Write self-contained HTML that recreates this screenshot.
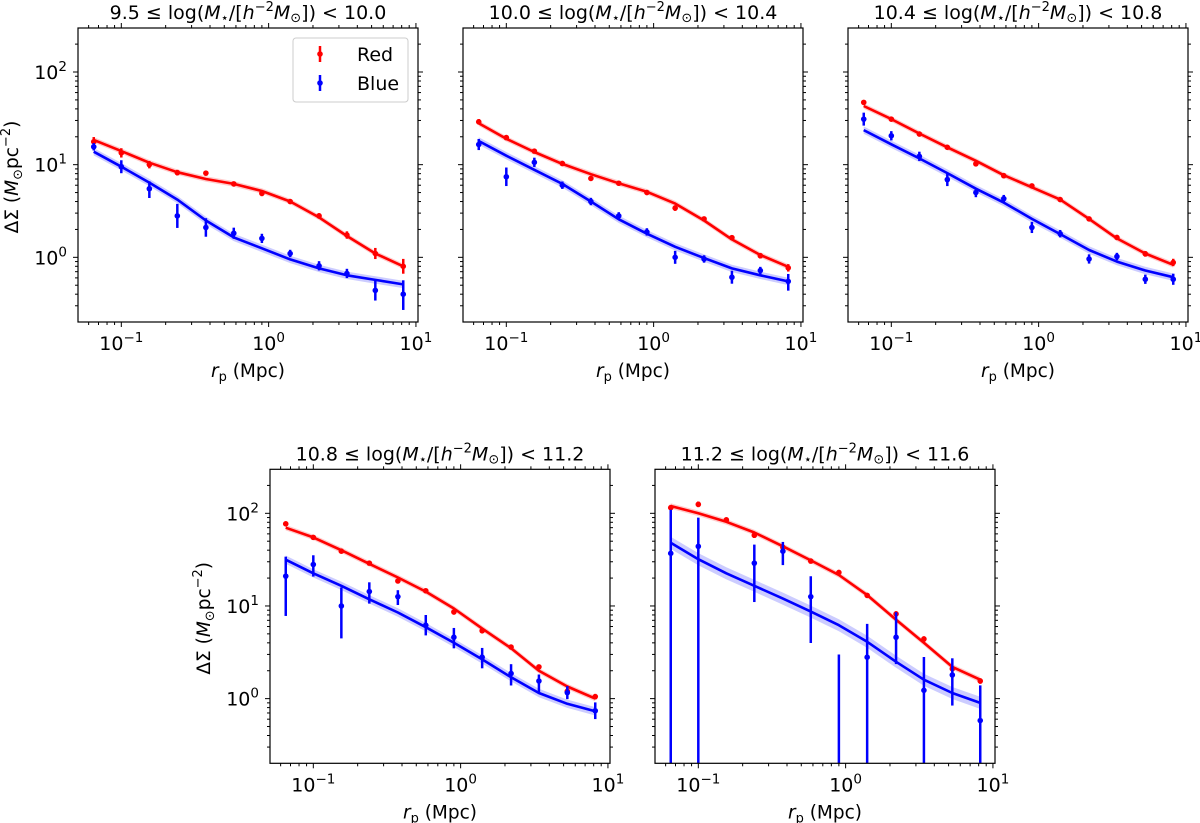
<!DOCTYPE html>
<html><head><meta charset="utf-8">
<style>
html,body{margin:0;padding:0;background:#fff;overflow:hidden;width:1200px;height:823px;}
svg{display:block;font-family:"DejaVu Sans","Liberation Sans",sans-serif;}
</style></head>
<body>
<svg id="fig" width="1200" height="823" viewBox="0 0 1200 823" xmlns="http://www.w3.org/2000/svg"></svg>
<script>
// ---- data ----
const rp = [0.065,0.1,0.155,0.24,0.375,0.58,0.9,1.4,2.2,3.4,5.3,8.2];
const panelTitles = [["9.5","10.0"],["10.0","10.4"],["10.4","10.8"],["10.8","11.2"],["11.2","11.6"]];
const xTickValues = [0.1,1,10];
const xTickExps = ["−1","0","1"];
const yTickValues = [1,10,100];
const yTickExps = ["0","1","2"];

const p1RedData  = [17.7,13.4,10,8.2,8.1,6.2,4.9,4.0,2.8,1.74,1.1,0.8];
const p1RedErr   = [0.05,0.05,0.04,0.03,0.02,0.02,0.03,0.02,0.03,0.04,0.06,0.08];
const p1RedModel = [18.5,14,10.5,8.3,7,6.2,5.2,4,2.7,1.7,1.1,0.8];
const p1BlueData = [15.6,9.5,5.5,2.8,2.1,1.82,1.6,1.1,0.81,0.67,0.44,0.40];
const p1BlueUp   = [0.04,0.07,0.08,0.13,0.1,0.06,0.05,0.04,0.05,0.05,0.11,0.15];
const p1BlueDn   = [0.04,0.07,0.1,0.13,0.1,0.06,0.05,0.04,0.05,0.05,0.11,0.17];
const p1BlueModel= [13.8,9.5,6.4,4.2,2.5,1.64,1.25,0.95,0.76,0.64,0.57,0.51];

const p2RedData  = [29,19.6,14,10.3,7.1,6.3,5.0,3.4,2.6,1.63,1.04,0.77];
const p2RedErr   = [0.03,0.02,0.02,0.02,0.02,0.02,0.02,0.03,0.02,0.02,0.03,0.04];
const p2RedModel = [28,19,13.7,10.2,7.9,6.3,5.1,3.8,2.5,1.56,1.06,0.79];
const p2BlueData = [16.5,7.4,10.6,6.0,4.0,2.8,1.88,1.0,0.96,0.61,0.72,0.55];
const p2BlueUp   = [0.06,0.1,0.05,0.04,0.04,0.04,0.04,0.07,0.04,0.07,0.04,0.08];
const p2BlueDn   = [0.06,0.1,0.05,0.04,0.04,0.04,0.04,0.07,0.04,0.07,0.04,0.1];
const p2BlueModel= [18,12.5,8.8,6.2,4.0,2.57,1.8,1.3,0.98,0.76,0.64,0.55];

const p3RedData  = [47,31,21.4,15.4,10.2,7.6,5.9,4.2,2.6,1.64,1.09,0.88];
const p3RedErr   = [0.02,0.02,0.02,0.02,0.02,0.02,0.02,0.02,0.02,0.02,0.03,0.04];
const p3RedModel = [43,31,21.7,15.4,11,7.7,5.7,4.2,2.6,1.6,1.1,0.83];
const p3BlueData = [31,20.5,12.3,6.9,5.0,4.3,2.1,1.8,0.96,1.02,0.58,0.58];
const p3BlueUp   = [0.07,0.05,0.05,0.07,0.05,0.04,0.06,0.04,0.05,0.04,0.05,0.06];
const p3BlueDn   = [0.07,0.05,0.05,0.07,0.05,0.04,0.06,0.04,0.05,0.04,0.05,0.06];
const p3BlueModel= [23.6,16.6,11.7,8.1,5.5,3.9,2.6,1.78,1.2,0.9,0.72,0.61];

const p4RedData  = [77,55,39,29,18.6,14.6,8.6,5.4,3.6,2.2,1.2,1.05];
const p4RedErr   = [0.02,0.02,0.02,0.02,0.02,0.02,0.02,0.02,0.02,0.02,0.03,0.03];
const p4RedModel = [70,55,40,28.5,20.3,14.3,9.4,5.7,3.5,2.0,1.35,1.0];
const p4BlueData = [21,28,10,14.3,12.6,6.2,4.6,2.8,1.87,1.55,1.16,0.74];
const p4BlueUp   = [0.21,0.10,0.20,0.10,0.07,0.11,0.10,0.10,0.10,0.07,0.07,0.09];
const p4BlueDn   = [0.43,0.13,0.35,0.13,0.09,0.11,0.12,0.12,0.13,0.13,0.07,0.09];
const p4BlueModel= [31.6,22.5,16.5,11.8,8.5,5.9,4.0,2.65,1.7,1.15,0.88,0.73];

const p5RedData  = [115,125,85,58,43,30.5,23,13,8.2,4.4,2.1,1.55];
const p5RedErr   = [0.03,0.03,0.02,0.03,0.02,0.02,0.02,0.02,0.03,0.03,0.03,0.03];
const p5RedModel = [120,100,81,62,44,31,21.6,13.1,7.1,4.0,2.2,1.6];
const p5BlueData = [37,44,null,29,39,12.6,0.15,2.8,4.6,1.23,1.8,0.58];
const p5BlueUp   = [0.47,0.31,0,0.2,0.1,0.22,1.3,0.36,0.27,0.36,0.18,0.38];
const p5BlueDn   = [3,3,0,0.42,0.15,0.5,3,3,0.29,3,0.33,3];
const p5BlueModel= [48,32,22.5,16.5,12,8.7,6.2,4.1,2.5,1.6,1.15,0.9];

const panels = [
 {redD:p1RedData,redE:p1RedErr,redM:p1RedModel,bD:p1BlueData,bU:p1BlueUp,bN:p1BlueDn,bM:p1BlueModel},
 {redD:p2RedData,redE:p2RedErr,redM:p2RedModel,bD:p2BlueData,bU:p2BlueUp,bN:p2BlueDn,bM:p2BlueModel},
 {redD:p3RedData,redE:p3RedErr,redM:p3RedModel,bD:p3BlueData,bU:p3BlueUp,bN:p3BlueDn,bM:p3BlueModel},
 {redD:p4RedData,redE:p4RedErr,redM:p4RedModel,bD:p4BlueData,bU:p4BlueUp,bN:p4BlueDn,bM:p4BlueModel},
 {redD:p5RedData,redE:p5RedErr,redM:p5RedModel,bD:p5BlueData,bU:p5BlueUp,bN:p5BlueDn,bM:p5BlueModel}
];
// ---- layout ----
const boxes = [[78,28],[463,28],[848,28],[270,469.3],[655,469.3]];
const W = 340, H = 294;
const XMIN = -1.294, XMAX = 1.014, YMIN = -0.698, YMAX = 2.475;
const bandW = [0.04,0.04,0.04,0.045,0.065];

const NS = "http://www.w3.org/2000/svg";
const svg = document.getElementById('fig');
function mk(tag, attrs, parent){
  const e = document.createElementNS(NS, tag);
  for (const k in attrs) e.setAttribute(k, attrs[k]);
  (parent||svg).appendChild(e);
  return e;
}
const FS = 19, SS = 13.5;

panels.forEach((p, i) => {
  const [bx, by] = boxes[i];
  const xs = v => bx + (Math.log10(v) - XMIN) / (XMAX - XMIN) * W;
  const ys = v => by + (YMAX - Math.log10(v)) / (YMAX - YMIN) * H;
  const yl = l => by + (YMAX - l) / (YMAX - YMIN) * H;
  const g = mk('g', {});
  
  
  const cid = 'clip' + i;
  const cp = mk('clipPath', {id: cid}, g);
  mk('rect', {x: bx, y: by, width: W, height: H}, cp);
  const plot = mk('g', {'clip-path': 'url(#' + cid + ')'}, g);

  [[p.redM, 0.03, 'rgba(255,0,0,0.2)', 'red-model-band'], [p.bM, bandW[i], 'rgba(0,0,255,0.2)', 'blue-model-band']].forEach(([m, w, c, nm]) => {
    let d = '';
    m.forEach((v, k) => { d += (k ? 'L' : 'M') + xs(rp[k]).toFixed(1) + ',' + yl(Math.log10(v) + w).toFixed(1); });
    for (let k = m.length - 1; k >= 0; k--) d += 'L' + xs(rp[k]).toFixed(1) + ',' + yl(Math.log10(m[k]) - w).toFixed(1);
    const e = mk('path', {d: d + 'Z', fill: c, stroke: 'none'}, plot);
    
    
  });
  [[p.redM, '#ff0000', 'red-model-line'], [p.bM, '#0000ff', 'blue-model-line']].forEach(([m, c, nm]) => {
    const pts = m.map((v, k) => xs(rp[k]).toFixed(1) + ',' + ys(v).toFixed(1)).join(' ');
    const e = mk('polyline', {points: pts, fill: 'none', stroke: c, 'stroke-width': 2.6, 'stroke-linejoin': 'round'}, plot);
    
    
  });
  const series = [
    {d: p.redD, up: p.redE, dn: p.redE, c: '#ff0000', nm: 'red'},
    {d: p.bD, up: p.bU, dn: p.bN, c: '#0000ff', nm: 'blue'}
  ];
  series.forEach(s => {
    s.d.forEach((v, k) => {
      if (v === null) return;
      const x = xs(rp[k]), lv = Math.log10(v);
      const eb = mk('line', {x1: x, x2: x, y1: yl(lv + s.up[k]), y2: yl(lv - s.dn[k]), stroke: s.c, 'stroke-width': 2.5}, plot);
      
      
      const pt = mk('circle', {cx: x, cy: ys(v), r: 2.8, fill: s.c}, plot);
      
      
    });
  });

  const fr = mk('rect', {x: bx, y: by, width: W, height: H, fill: 'none', stroke: '#000', 'stroke-width': 1.2}, g);
  
  

  const tg = mk('g', {stroke: '#000', 'stroke-width': 1}, g);
  for (let e = -2; e <= 1; e++) for (let m = 1; m <= 9; m++) {
    const l = e + Math.log10(m);
    if (l < XMIN || l > XMAX) continue;
    const x = bx + (l - XMIN) / (XMAX - XMIN) * W;
    const len = m === 1 ? 5 : 3;
    mk('line', {x1: x, x2: x, y1: by + H, y2: by + H + len}, tg);
    mk('line', {x1: x, x2: x, y1: by, y2: by - len}, tg);
  }
  for (let e = -1; e <= 2; e++) for (let m = 1; m <= 9; m++) {
    const l = e + Math.log10(m);
    if (l < YMIN || l > YMAX) continue;
    const y = yl(l);
    const len = m === 1 ? 5 : 3;
    mk('line', {x1: bx, x2: bx - len, y1: y, y2: y}, tg);
    mk('line', {x1: bx + W, x2: bx + W + len, y1: y, y2: y}, tg);
  }
  xTickValues.forEach((v, k) => {
    const t = mk('text', {x: xs(v), y: by + H + 28, 'font-size': FS, 'text-anchor': 'middle'}, g);
    
    
    t.innerHTML = '10<tspan dy="-8" font-size="' + SS + '">' + xTickExps[k] + '</tspan>';
  });
  if (i === 0 || i === 3) {
    yTickValues.forEach((v, k) => {
      const t = mk('text', {x: bx - 11, y: ys(v) + 7, 'font-size': FS, 'text-anchor': 'end'}, g);
      
      
      t.innerHTML = '10<tspan dy="-8" font-size="' + SS + '">' + yTickExps[k] + '</tspan>';
    });
    const yt = mk('text', {x: 0, y: 0, 'font-size': 18.5, 'text-anchor': 'middle', transform: 'translate(' + (bx - 60) + ',' + (by + 149) + ') rotate(-90)'}, g);
    
    
    yt.innerHTML = 'ΔΣ (<tspan font-style="italic">M</tspan><tspan font-size="13" dy="4">⊙</tspan><tspan dy="-4">pc</tspan><tspan dy="-8" font-size="13">−2</tspan><tspan dy="8">)</tspan>';
  }
  const xt = mk('text', {x: bx + W/2, y: by + H + 55, 'font-size': 18.5, 'text-anchor': 'middle'}, g);
  
  
  xt.innerHTML = '<tspan font-style="italic">r</tspan><tspan font-size="13" dy="4">p</tspan><tspan dy="-4"> (Mpc)</tspan>';
  const tt = mk('text', {x: bx + W/2, y: by - 9, 'font-size': FS, 'text-anchor': 'middle'}, g);
  
  
  tt.innerHTML = panelTitles[i][0] + ' ≤ log(<tspan font-style="italic">M</tspan><tspan font-size="13" dy="3">⋆</tspan><tspan dy="-3">/[</tspan><tspan font-style="italic">h</tspan><tspan dy="-8" font-size="13">−2</tspan><tspan dy="8" font-style="italic">M</tspan><tspan font-size="13" dy="3">⊙</tspan><tspan dy="-3">]) &lt; ' + panelTitles[i][1] + '</tspan>';

  if (i === 0) {
    const lg = mk('g', {}, g);
    
    
    mk('rect', {x: 293, y: 38, width: 115, height: 64, rx: 3, fill: '#fff', stroke: '#ccc', 'stroke-width': 1}, lg);
    [['Red', '#ff0000', 54], ['Blue', '#0000ff', 83]].forEach(([lab, c, y]) => {
      const en = mk('g', {}, lg);
      
      
      mk('line', {x1: 320, x2: 320, y1: y - 8, y2: y + 8, stroke: c, 'stroke-width': 2.5}, en);
      mk('circle', {cx: 320, cy: y, r: 2.8, fill: c}, en);
      const t = mk('text', {x: 357, y: y + 7, 'font-size': FS}, en);
      t.textContent = lab;
    });
  }
});
</script>
</body></html>
